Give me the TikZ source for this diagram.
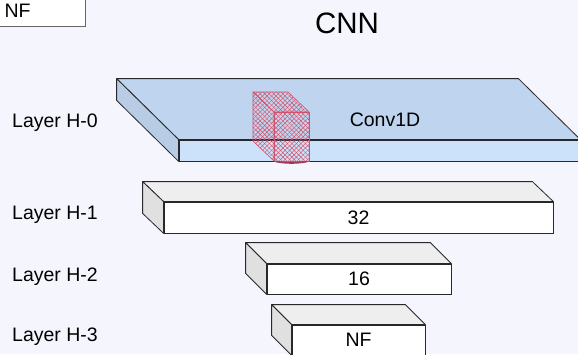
\documentclass[tikz,border=0pt]{standalone}
\usepackage{fontspec}
\setmainfont{Liberation Sans}
\usetikzlibrary{patterns.meta}
\definecolor{bgcol}{RGB}{245,246,253}
\definecolor{edgecol}{RGB}{40,40,40}
\definecolor{bluetop}{RGB}{191,212,238}
\definecolor{blueside}{RGB}{184,204,230}
\definecolor{bluefront}{RGB}{204,225,250}
\definecolor{graytop}{RGB}{238,238,238}
\definecolor{grayside}{RGB}{224,224,224}
\definecolor{cubered}{RGB}{214,78,104}
\tikzset{
  slabfront/.style={draw=edgecol, line width=0.8pt, fill=white, inner sep=0pt, anchor=center},
  graytopface/.style={draw=edgecol, line width=0.8pt, fill=graytop, line join=round},
  graysideface/.style={draw=edgecol, line width=0.8pt, fill=grayside, line join=round},
  bluefrontface/.style={draw=edgecol, line width=0.8pt, fill=bluefront, inner sep=0pt, anchor=center},
  bluetopface/.style={draw=edgecol, line width=0.8pt, fill=bluetop, line join=round},
  bluesideface/.style={draw=edgecol, line width=0.8pt, fill=blueside, line join=round},
  layerlabel/.style={anchor=base west, inner sep=0pt},
  cubeface/.style={draw=cubered, line width=0.6pt, line join=round,
    pattern={Lines[angle=45,distance=3.2pt,line width=0.45pt]}, pattern color=cubered,
    postaction={pattern={Lines[angle=-45,distance=3.2pt,line width=0.45pt]}, pattern color=cubered}},
}
\begin{document}
\begin{tikzpicture}[x=1pt,y=-1pt,font=\fontsize{19.5}{23}\selectfont]
\useasboundingbox (0,0) rectangle (578,354);
\fill[bgcol] (0,0) rectangle (578,354);
\clip (0,0) rectangle (578,354);

% top-left NF box
\node[draw=gray!80!black, line width=0.8pt, fill=white, anchor=south east,
      minimum width=90pt, minimum height=31pt, text width=72pt, inner xsep=9pt, align=left] (nfbox) at (86,27) {NF};

% title
\node[anchor=base, inner sep=0pt, font=\fontsize{29.5}{34}\selectfont] (title) at (347,33) {CNN};

% layer labels
\node[layerlabel] (l0) at (12,127) {Layer H-0};
\node[layerlabel] (l1) at (12,219.5) {Layer H-1};
\node[layerlabel] (l2) at (12,281) {Layer H-2};
\node[layerlabel] (l3) at (12,341.5) {Layer H-3};

% Layer H-0 slab (blue)
\node[bluefrontface, minimum width=401pt, minimum height=21pt] (h0) at (379.5,150.5) {};
\draw[bluetopface] (h0.north west) -- ([shift={(-62,-61)}]h0.north west) -- ([shift={(-62,-61)}]h0.north east) -- (h0.north east) -- cycle;
\draw[bluesideface] (h0.north west) -- ([shift={(-62,-61)}]h0.north west) -- ([shift={(-62,-61)}]h0.south west) -- (h0.south west) -- cycle;
\node[inner sep=0pt] (conv) at (385,120) {Conv1D};

% red hatched cube (kernel)
\coordinate (kf1) at (274,112);
\coordinate (kf2) at (309,112);
\coordinate (kf3) at (309,161);
\coordinate (kf4) at (274,161);
\coordinate (kb1) at (253,92);
\coordinate (kb2) at (288,92);
\coordinate (kb4) at (253,141);
\path[cubeface] (kb1) -- (kb2) -- (kf2) -- (kf1) -- cycle;
\path[cubeface] (kb1) -- (kf1) -- (kf4) -- (kb4) -- cycle;
\path[cubeface] (kf1) -- (kf2) -- (kf3) -- (kf4) -- cycle;
\draw[cubered!75!black, line width=1.6pt, line cap=round] (276,161.5) .. controls (285,163.5) and (298,163.5) .. (307,161.5);

% Layer H-1 slab
\node[slabfront, minimum width=389pt, minimum height=31pt] (h1) at (358.5,217.5) {32};
\draw[graytopface] (h1.north west) -- ([shift={(-21,-20)}]h1.north west) -- ([shift={(-21,-20)}]h1.north east) -- (h1.north east) -- cycle;
\draw[graysideface] (h1.north west) -- ([shift={(-21,-20)}]h1.north west) -- ([shift={(-21,-20)}]h1.south west) -- (h1.south west) -- cycle;

% Layer H-2 slab
\node[slabfront, minimum width=184pt, minimum height=30pt] (h2) at (359,279) {16};
\draw[graytopface] (h2.north west) -- ([shift={(-21,-21)}]h2.north west) -- ([shift={(-21,-21)}]h2.north east) -- (h2.north east) -- cycle;
\draw[graysideface] (h2.north west) -- ([shift={(-21,-21)}]h2.north west) -- ([shift={(-21,-21)}]h2.south west) -- (h2.south west) -- cycle;

% Layer H-3 slab
\node[slabfront, minimum width=133pt, minimum height=30pt] (h3) at (358.5,340) {NF};
\draw[graytopface] (h3.north west) -- ([shift={(-20,-20)}]h3.north west) -- ([shift={(-20,-20)}]h3.north east) -- (h3.north east) -- cycle;
\draw[graysideface] (h3.north west) -- ([shift={(-20,-20)}]h3.north west) -- ([shift={(-20,-20)}]h3.south west) -- (h3.south west) -- cycle;
\end{tikzpicture}
\end{document}
